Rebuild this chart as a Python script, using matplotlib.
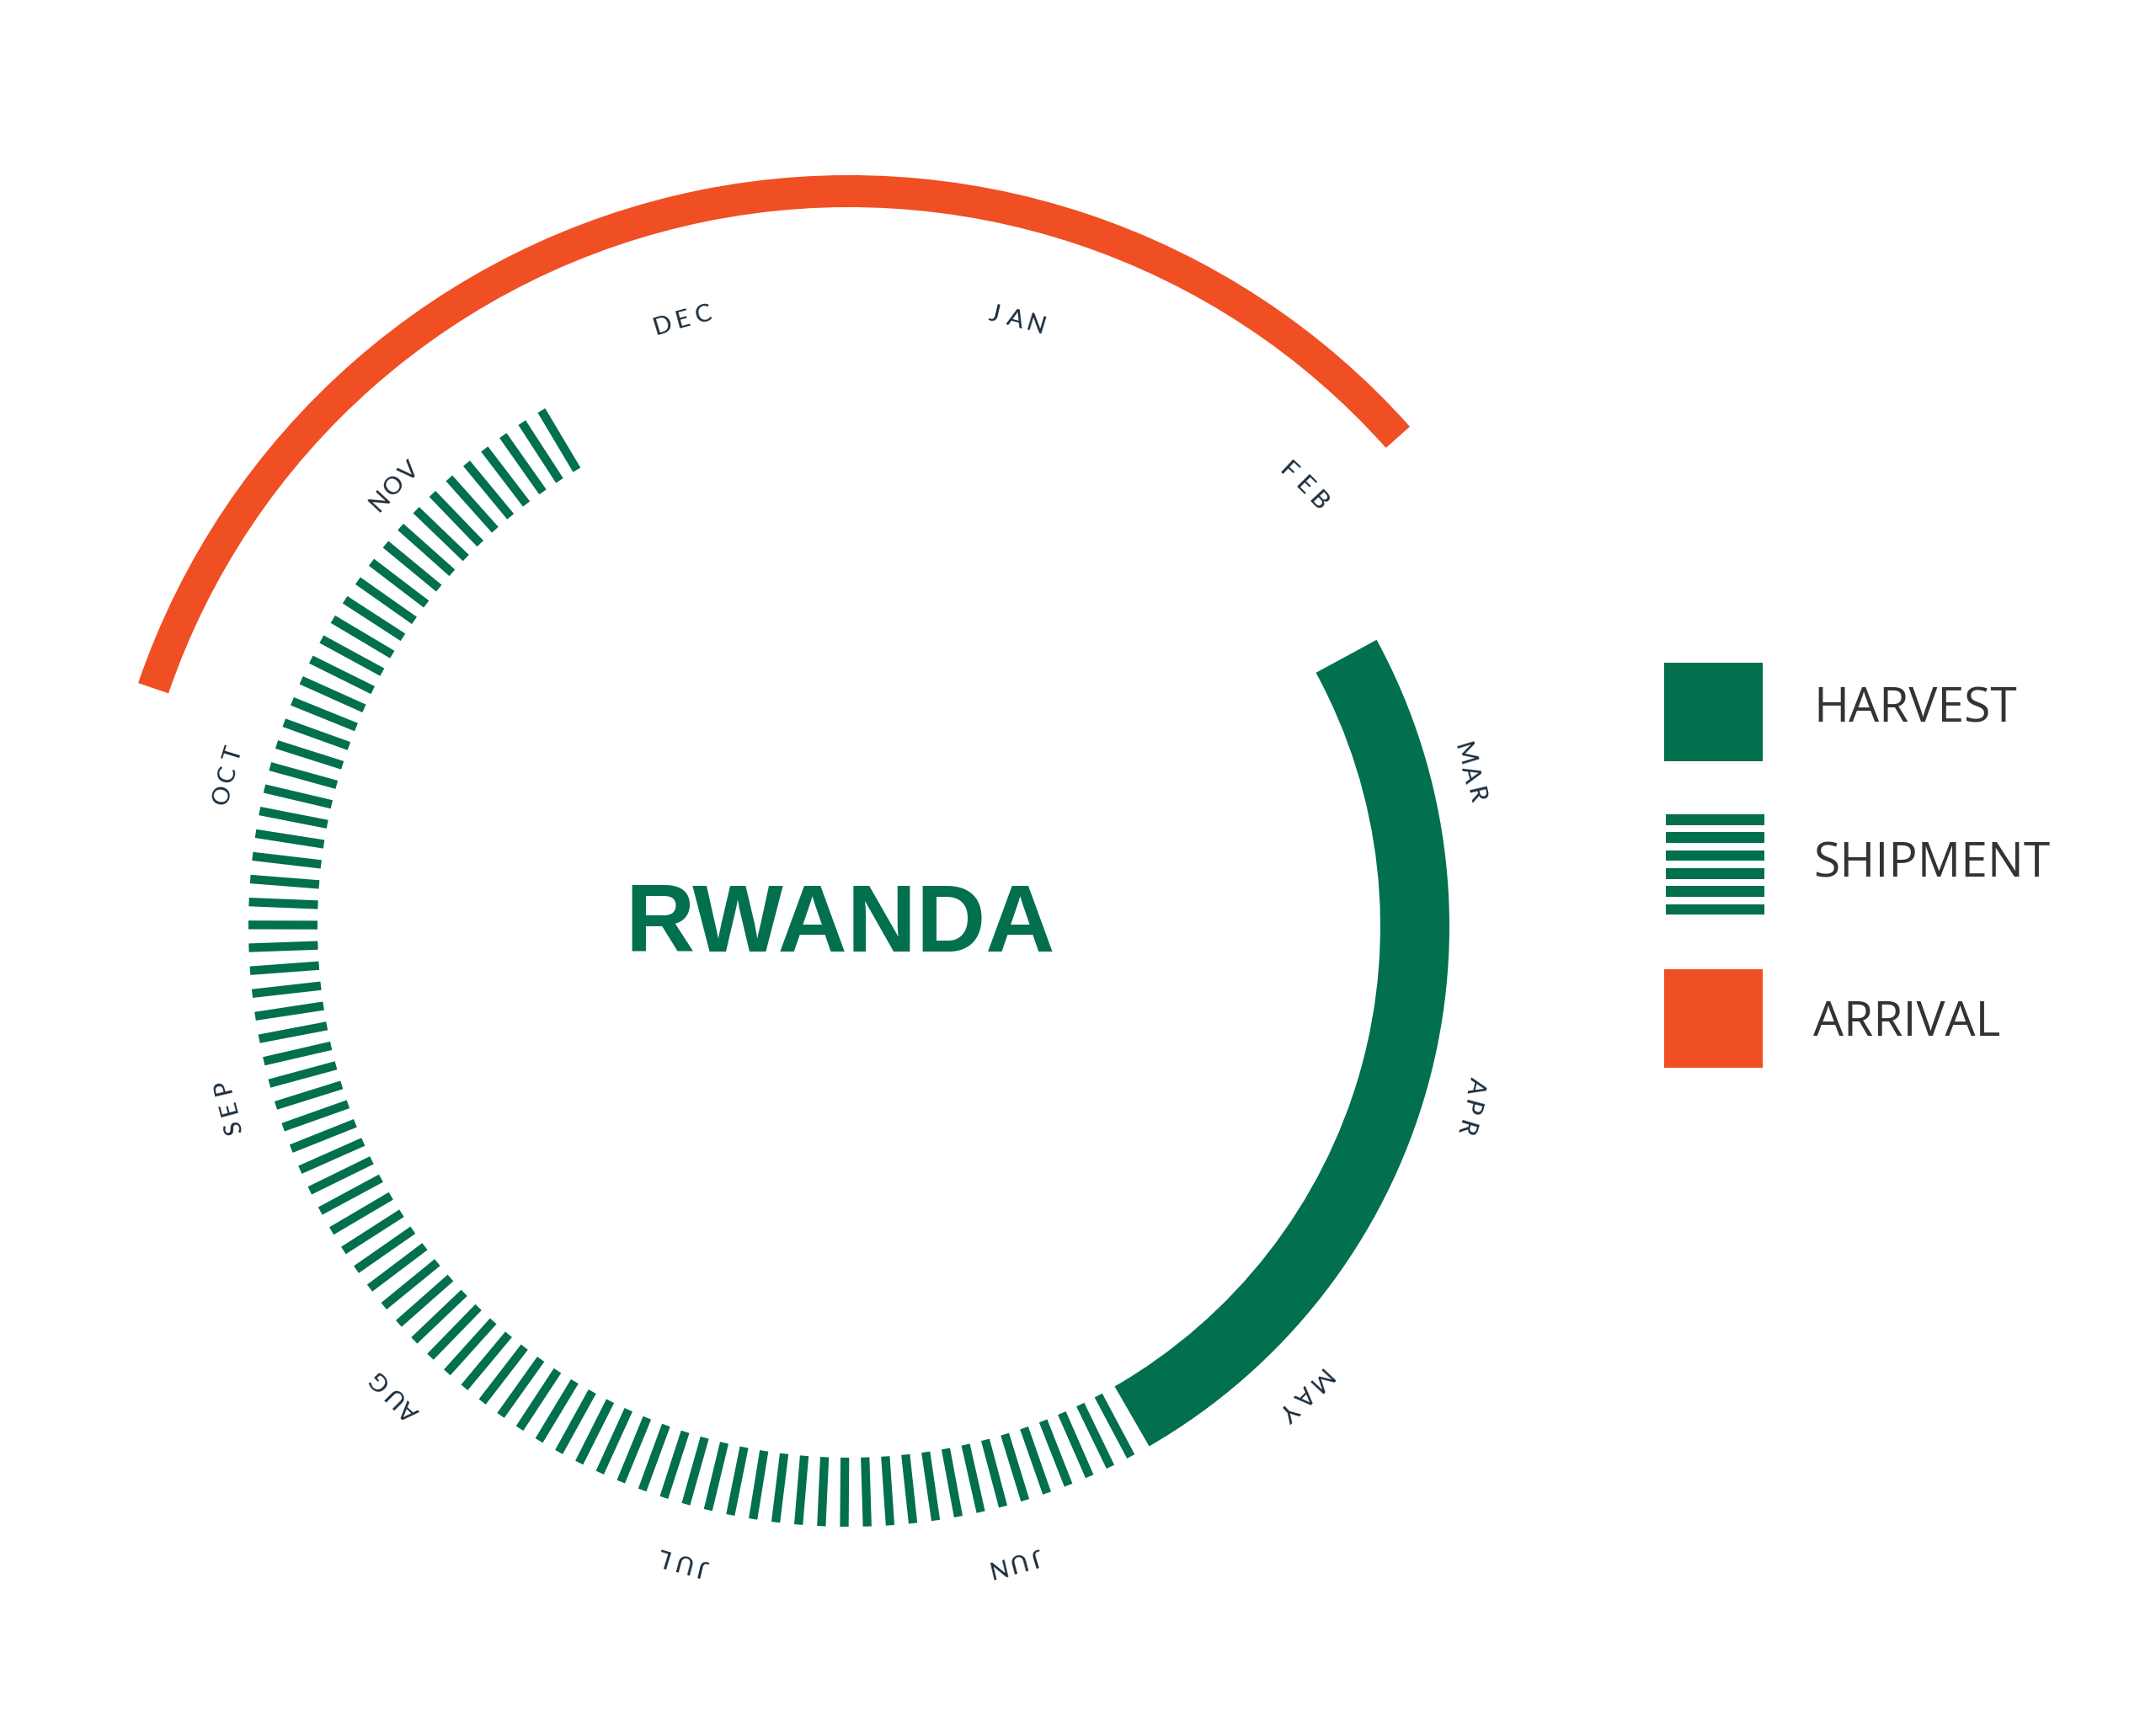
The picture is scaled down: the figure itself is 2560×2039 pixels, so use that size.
import numpy as np
import matplotlib
matplotlib.use("Agg")
import matplotlib.pyplot as plt
from matplotlib.patches import Rectangle

# season data, in months counted from 1 January (0 = Jan 1, 12 = next Jan 1)
MONTHS = ["JAN", "FEB", "MAR", "APR", "MAY", "JUN",
          "JUL", "AUG", "SEP", "OCT", "NOV", "DEC"]
HARVEST = (2.05, 5.0)
SHIPMENT = (5.0, 11.0)
ARRIVAL = (9.63, 13.61)
COUNTRY = "RWANDA"
LEGEND_LABELS = ["HARVEST", "SHIPMENT", "ARRIVAL"]

GREEN = "#026f4f"
ORANGE = "#f04e23"
NAVY = "#1c2e3d"
GREY = "#333333"

W, H = 2560, 2039
CX, CY = 1008, 1100          # ring centre in px (from top left)
R_AX = 930                   # polar axes radius in px, so 1 unit = 1 px
RING_IN, RING_OUT = 631, 713
ARR_IN, ARR_OUT = 854, 892
LBL_R, LBL_OFF = 755, 17     # baseline ring of the month labels
N_STRIPES = 82
PAD_START, PAD_END = 2.0, 0.8   # degrees kept free at the ends of the stripes


def m2rad(m):
    return np.asarray(m, dtype=float) / 12 * 2 * np.pi


fig = plt.figure(figsize=(W / 100, H / 100), dpi=100)
ax = fig.add_axes([(CX - R_AX) / W, (H - CY - R_AX) / H, 2 * R_AX / W, 2 * R_AX / H],
                  projection="polar")
ax.set_theta_zero_location("N")
ax.set_theta_direction(-1)
ax.set_ylim(0, R_AX)
ax.set_axis_off()

# harvest: solid band
a, b = m2rad(HARVEST)
ax.bar((a + b) / 2, RING_OUT - RING_IN, width=b - a, bottom=RING_IN,
       color=GREEN, linewidth=0)

# shipment: radial stripes
a, b = m2rad(SHIPMENT)
th = np.linspace(a + np.radians(PAD_START), b - np.radians(PAD_END), N_STRIPES)
ax.vlines(th, RING_IN, RING_OUT, colors=GREEN, linewidth=7.4, capstyle="butt")

# arrival: outer orange band
a, b = m2rad(ARRIVAL)
ax.bar((a + b) / 2, ARR_OUT - ARR_IN, width=b - a, bottom=ARR_IN,
       color=ORANGE, linewidth=0)

# month labels, letter by letter along the ring
step = np.degrees(25 / LBL_R)
for i, name in enumerate(MONTHS):
    phi0 = (i + 0.5) * 30
    n = len(name)
    for k, ch in enumerate(name):
        phi = phi0 + (k - (n - 1) / 2) * step
        x = LBL_R * np.sin(np.radians(phi))
        y = LBL_R * np.cos(np.radians(phi)) - LBL_OFF
        ax.text(np.arctan2(x, y), np.hypot(x, y), ch, rotation=-phi,
                rotation_mode="anchor", ha="center", va="baseline",
                fontsize=21, fontweight="medium", color=NAVY,
                family=["Lato", "DejaVu Sans"])

fig.text(998 / W, 1 - 1130 / H, COUNTRY, ha="center", va="baseline",
         fontsize=82, fontweight="bold", color=GREEN,
         family=["Liberation Sans", "DejaVu Sans"])

# legend in pixel coordinates
lax = fig.add_axes([0, 0, 1, 1])
lax.set_xlim(0, W)
lax.set_ylim(H, 0)
lax.set_axis_off()

sq_x, sq_w = 1976, 117
lax.add_patch(Rectangle((sq_x, 787), sq_w, 117, color=GREEN, lw=0))
bar_h, bar_pitch = 12.7, 21.3
for k in range(6):
    lax.add_patch(Rectangle((sq_x + 2, 967 + k * bar_pitch), sq_w, bar_h,
                            color=GREEN, lw=0))
lax.add_patch(Rectangle((sq_x, 1151), sq_w, 117, color=ORANGE, lw=0))

for label, base in zip(LEGEND_LABELS, [858, 1041, 1230]):
    lax.text(2153, base, label, ha="left", va="baseline", fontsize=41,
             color=GREY, family=["Open Sans", "DejaVu Sans"])

fig.savefig("out.png", dpi=100, facecolor="white")
